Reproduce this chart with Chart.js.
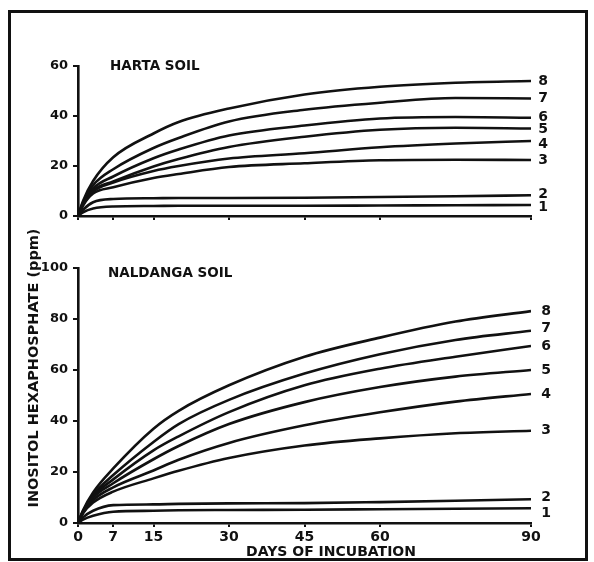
<!DOCTYPE html>
<html><head><meta charset="utf-8">
<script src="https://cdn.jsdelivr.net/npm/chart.js@4/dist/chart.umd.min.js"></script>
<style>
html,body{margin:0;padding:0;background:#fff;}
#wrap{position:relative;width:594px;height:562px;overflow:hidden;background:#fff;}
canvas{position:absolute;left:0;top:0;}
#frame{position:absolute;left:8px;top:10px;width:580px;height:551px;box-sizing:border-box;border:3.5px solid #111;pointer-events:none;}
</style></head><body>
<div id="wrap">
<canvas id="topChart" width="594" height="562"></canvas>
<canvas id="botChart" width="594" height="562"></canvas>
<div id="frame"></div>
</div>
<script>
// ---- data ----
const days = [0, 1, 3, 7, 15, 20, 30, 45, 60, 75, 90];
const xTickValues = [0, 7, 15, 30, 45, 60, 90];
const curveLabels = ['1', '2', '3', '4', '5', '6', '7', '8'];
const topTitle = 'HARTA SOIL';
const bottomTitle = 'NALDANGA SOIL';
const xTitle = 'DAYS OF INCUBATION';
const yTitle = 'INOSITOL HEXAPHOSPHATE (ppm)';

const harta1 = [0, 1.5, 3.0, 3.8, 4.0, 4.1, 4.1, 4.1, 4.2, 4.3, 4.4];
const harta2 = [0, 2.5, 5.5, 6.8, 7.1, 7.2, 7.2, 7.3, 7.6, 7.9, 8.3];
const harta3 = [0, 4.2, 9.0, 11.5, 15.2, 16.8, 19.6, 21.1, 22.3, 22.5, 22.4];
const harta4 = [0, 4.5, 9.8, 13.4, 18.0, 20.0, 23.0, 25.1, 27.5, 29.0, 30.0];
const harta5 = [0, 4.7, 10.2, 13.8, 19.8, 22.8, 27.6, 31.7, 34.5, 35.3, 35.0];
const harta6 = [0, 5.0, 11.0, 15.8, 23.1, 26.6, 32.2, 36.2, 39.0, 39.6, 39.3];
const harta7 = [0, 5.5, 12.3, 18.7, 27.2, 31.2, 37.8, 42.5, 45.3, 47.2, 47.0];
const harta8 = [0, 6.0, 14.0, 23.5, 33.0, 37.6, 43.0, 48.6, 51.7, 53.3, 54.0];

const naldanga1 = [0, 1.3, 2.8, 4.4, 4.8, 5.0, 5.1, 5.2, 5.4, 5.6, 5.8];
const naldanga2 = [0, 2.2, 4.8, 7.0, 7.3, 7.5, 7.7, 7.8, 8.2, 8.7, 9.3];
const naldanga3 = [0, 3.8, 8.0, 12.3, 17.5, 20.5, 25.5, 30.4, 33.2, 35.2, 36.2];
const naldanga4 = [0, 4.0, 9.0, 14.0, 20.6, 24.8, 31.4, 38.3, 43.4, 47.6, 50.6];
const naldanga5 = [0, 4.3, 10.0, 15.6, 25.0, 30.2, 38.8, 47.4, 53.3, 57.4, 60.0];
const naldanga6 = [0, 4.5, 10.5, 17.1, 28.5, 34.0, 43.5, 54.0, 60.5, 65.2, 69.4];
const naldanga7 = [0, 4.7, 11.0, 18.8, 31.8, 38.8, 48.3, 58.6, 66.2, 71.8, 75.4];
const naldanga8 = [0, 5.0, 12.0, 21.4, 37.0, 44.0, 54.0, 65.2, 72.7, 79.0, 83.1];

const hartaSeries = [harta1, harta2, harta3, harta4, harta5, harta6, harta7, harta8];
const naldangaSeries = [naldanga1, naldanga2, naldanga3, naldanga4, naldanga5, naldanga6, naldanga7, naldanga8];

// ---- styling ----
const INK = '#111';
const FONT = "'DejaVu Sans', 'Liberation Sans', sans-serif";

function makeDatasets(series) {
  return series.map((vals, i) => ({
    label: curveLabels[i],
    data: vals.map((v, k) => ({ x: days[k], y: v })),
    borderColor: INK,
    borderWidth: 2.6,
    pointRadius: 0,
    fill: false,
    cubicInterpolationMode: 'monotone'
  }));
}

const annotatePlugin = {
  id: 'annotate',
  afterDatasetsDraw(chart, args, opts) {
    const ctx = chart.ctx;
    const ca = chart.chartArea;
    ctx.save();
    ctx.fillStyle = INK;
    // curve end labels
    ctx.font = 'bold 14px ' + FONT;
    ctx.textAlign = 'center';
    ctx.textBaseline = 'middle';
    chart.data.datasets.forEach((ds, i) => {
      const meta = chart.getDatasetMeta(i);
      const pt = meta.data[meta.data.length - 1];
      const nudge = (opts.nudges && opts.nudges[i]) || 0;
      ctx.fillText(ds.label, ca.right + opts.labelGap, pt.y + nudge);
    });
    // panel title
    ctx.font = 'bold 13.5px ' + FONT;
    ctx.textAlign = 'left';
    ctx.fillText(opts.panelTitle, ca.left + opts.titleDx, ca.top + opts.titleDy);
    // axis titles
    if (opts.drawAxisTitles) {
      ctx.font = 'bold 14px ' + FONT;
      ctx.textAlign = 'center';
      ctx.fillText(xTitle, 331, 552);
      ctx.translate(34, 368);
      ctx.rotate(-Math.PI / 2);
      ctx.font = 'bold 14.5px ' + FONT;
      ctx.fillText(yTitle, 0, 0);
    }
    ctx.restore();
  }
};

function makeChart(id, series, yMax, cfg) {
  return new Chart(document.getElementById(id), {
    type: 'line',
    data: { datasets: makeDatasets(series) },
    plugins: [annotatePlugin],
    options: {
      responsive: false,
      animation: false,
      events: [],
      layout: { padding: { left: 0, right: 63, top: cfg.padTop, bottom: cfg.padBottom } },
      plugins: {
        legend: { display: false },
        tooltip: { enabled: false },
        annotate: cfg.annotate
      },
      scales: {
        x: {
          type: 'linear', min: 0, max: 90,
          afterBuildTicks: s => { s.ticks = xTickValues.map(v => ({ value: v })); },
          afterFit: s => { s.height = cfg.xHeight; },
          border: { display: true, color: INK, width: 2.6 },
          grid: { drawOnChartArea: false, drawTicks: true, tickLength: 4, color: INK, lineWidth: 2 },
          ticks: { display: cfg.showXLabels, padding: 2, color: INK, maxRotation: 0, autoSkip: false,
                   font: { family: FONT, weight: 'bold', size: 14 } }
        },
        y: {
          min: 0, max: yMax,
          afterFit: s => { s.width = 78; },
          border: { display: true, color: INK, width: 2.6 },
          grid: { drawOnChartArea: false, drawTicks: true, tickLength: 5, color: INK, lineWidth: 2 },
          ticks: { stepSize: 20, padding: 5, color: INK,
                   font: { family: FONT, weight: 'bold', size: 13 } }
        }
      }
    }
  });
}

makeChart('topChart', hartaSeries, 60, {
  padTop: 66, padBottom: 336, xHeight: 10, showXLabels: false,
  annotate: { panelTitle: topTitle, titleDx: 32, titleDy: 0, labelGap: 12,
              nudges: [2, -1, 0, 3, 1, 0, 0, 0], drawAxisTitles: false }
});

makeChart('botChart', naldangaSeries, 100, {
  padTop: 268, padBottom: 0, xHeight: 39, showXLabels: true,
  annotate: { panelTitle: bottomTitle, titleDx: 30, titleDy: 5, labelGap: 15,
              nudges: [5, -2, 0, 0, 0, 0, -2, 0], drawAxisTitles: true }
});
</script>
</body></html>
